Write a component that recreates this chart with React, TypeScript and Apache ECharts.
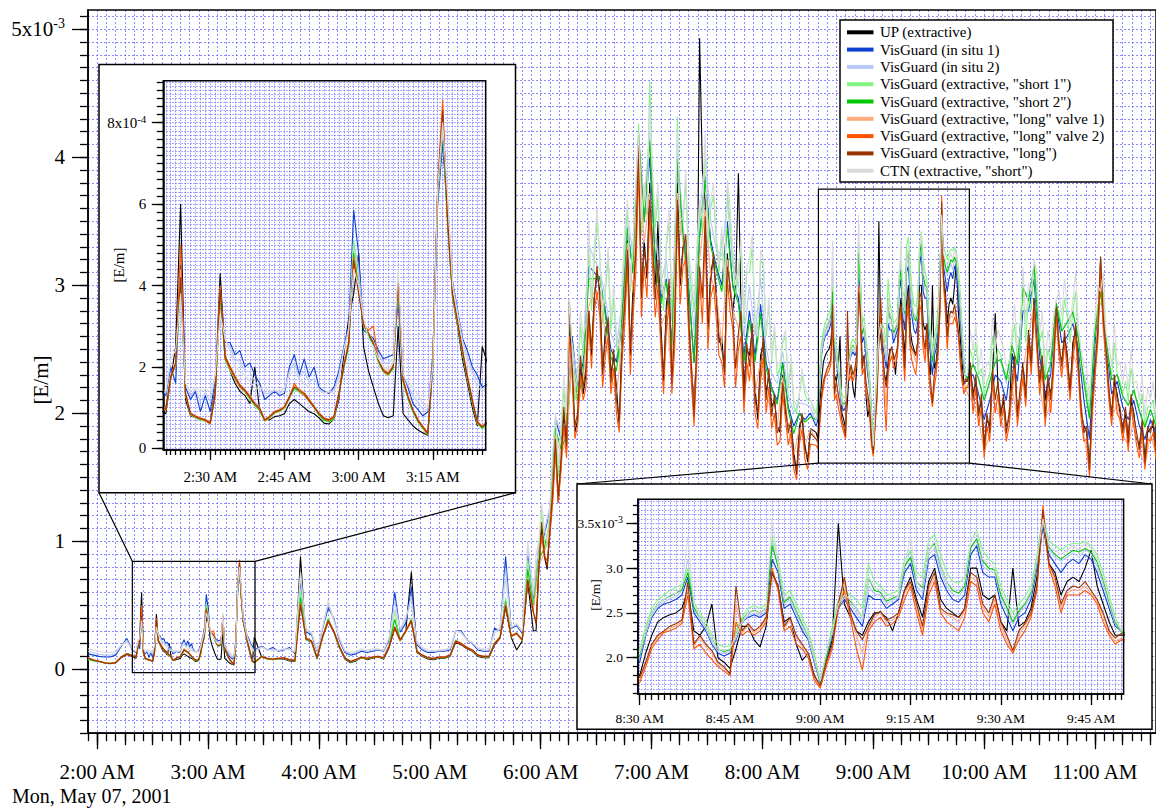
import React, { useEffect, useRef } from 'react';
import * as echarts from 'echarts';

// ---------- time grids (minutes after midnight) ----------
const SEGMENTS_LO: [number, number, number][] = [
  [115, 139, 3], [141, 205, 1], [209, 506, 3], [509, 591, 1], [594, 693, 3],
];
const SEGMENTS_HI: [number, number, number][] = [
  [115, 139, 3], [141, 205, 1], [209, 356, 3], [357.5, 506, 1.5], [509, 591, 1], [592.5, 693, 1.5],
];
function buildTimes(segs: [number, number, number][]) {
  const t: number[] = [];
  for (const [a, b, s] of segs) {
    const n = Math.round((b - a) / s);
    for (let i = 0; i <= n; i++) t.push(+(a + i * s).toFixed(2));
  }
  return t;
}
const TIMES_LO = buildTimes(SEGMENTS_LO);
const TIMES_HI = buildTimes(SEGMENTS_HI);

// ---------- series values, in 1e-6 E/m (on TIMES_LO) ----------
const UP = [
  85,70,60,48,42,50,90,115,100,
  85,170,250,600,120,80,75,70,68,65,150,430,230,190,160,140,130,110,200,90,
  72,70,78,80,85,110,120,110,100,90,85,75,62,60,72,120,230,320,380,480,
  250,190,150,110,80,75,80,300,85,70,55,45,38,32,200,620,760,560,370,300,
  220,160,100,55,250,
  95,80,75,80,80,65,60,880,230,210,80,250,370,290,170,80,50,65,90,75,
  85,95,80,170,320,220,300,760,130,100,80,75,85,85,100,210,190,160,140,100,
  90,90,190,240,480,250,150,220,680,300,780,880,1080,1750,1600,1700,2350,1950,2150,2800,
  2900,2950,2650,2300,2200,2600,3350,3000,4050,3350,3800,3000,2700,2850,2300,3800,3300,2850,2100,4930,
  3650,3100,2950,2600,3250,2800,3875,2200,2450,2200,2450,2150,2050,1900,2300,1900,1700,1900,1750,1880,
  1850,1800,2050,2250,2400,2450,2480,2500,2550,2750,2300,2250,2350,2600,2000,1950,1880,2100,2350,2350,
  2200,2120,2350,2950,2800,2400,2450,2150,1970,2050,1800,1680,1950,2200,3500,2600,2450,2300,2250,2400,
  2500,2500,2450,2300,2500,2750,2900,2650,2450,2850,3000,2650,2550,2500,2450,2550,3000,3000,2700,2650,
  2700,2400,2300,3000,2350,2400,2550,2900,3500,3050,2950,2700,2850,2900,2850,3000,3200,2800,2600,2400,
  2250,2250,2250,
  2150,2000,1750,1900,2780,2000,1900,2470,2000,2400,2650,2900,2250,2100,2150,2850,2400,2450,2550,2400,
  1900,1600,2400,3200,2500,2000,2150,1880,1800,2000,1750,1650,1880,1720,
];
const IN_SITU_1 = [
  120,110,100,95,95,110,180,240,150,
  130,200,160,450,150,120,140,90,130,90,170,350,260,260,230,240,200,210,180,160,
  120,130,140,130,135,200,230,180,220,175,200,150,140,135,150,190,250,300,585,478,
  290,280,270,240,220,225,230,360,180,150,110,95,80,90,230,600,750,600,410,340,
  270,240,200,180,150,
  180,150,170,140,150,170,120,700,290,270,140,320,480,400,230,130,110,120,140,130,
  140,150,140,230,600,290,360,640,190,150,130,130,140,140,150,300,300,230,200,150,
  140,140,320,300,880,320,340,280,900,550,950,1050,1250,1950,1800,1900,2600,2200,2400,3150,
  3100,3050,2800,2500,2400,2750,3450,3100,4150,3500,4000,3200,2900,3050,2550,3950,3400,3000,2400,3400,
  3850,3350,3150,3000,3500,3000,2900,2450,2800,2450,2850,2400,2200,2100,2400,2050,1900,2000,1950,2000,
  1900,1950,2250,2450,2550,2600,2620,2650,2700,2900,2500,2400,2300,2150,2050,2020,2050,2200,2400,2450,
  2480,2450,2500,3100,2950,2550,2600,2450,2300,2200,1950,1720,2000,2250,2550,2650,2550,2450,2350,2700,
  2650,2650,2550,2600,2650,2950,3050,2750,2650,3100,3150,2900,2750,2650,2620,2700,3150,3250,2950,2900,
  2900,2600,2450,2300,2450,2500,2650,3000,3500,3150,3050,2950,3050,3100,3050,3150,3100,2950,2750,2550,
  2350,2300,2280,
  2300,2150,1950,2100,2300,2250,2100,2450,2250,2800,2800,3050,2450,2150,2300,2850,2550,2600,2700,2500,
  2100,1800,2550,3000,2550,2150,2250,2050,1950,2100,1900,1800,1950,1850,
];
const IN_SITU_2 = [
  140,128,118,110,110,125,185,225,155,
  135,210,200,410,155,130,145,115,138,115,175,340,265,250,215,215,190,188,165,152,
  135,135,142,135,142,190,210,175,190,162,172,145,138,138,142,180,245,295,510,440,
  305,275,260,230,210,210,220,400,180,155,130,112,95,95,215,620,775,610,405,335,
  265,225,190,165,145,
  175,150,158,145,155,160,130,730,305,280,145,325,510,390,240,140,120,130,150,140,
  150,155,145,240,535,305,390,570,205,160,140,138,145,148,160,300,290,230,205,160,
  150,150,300,310,790,325,350,290,950,575,975,1075,1275,1975,1850,1950,2550,2250,2500,3320,
  3200,3120,2900,2620,2510,2880,3560,3220,4170,3650,4200,3370,3020,3200,2720,4070,3470,3140,2640,3530,
  4020,3510,3280,3230,3660,3140,3020,2600,3000,2600,3060,2510,2310,2230,2480,2140,2000,2080,2070,2050,
  1920,2000,2270,2470,2570,2620,2660,2680,2750,3100,2550,2420,2320,2170,2070,2050,2070,2220,2400,2470,
  2500,2470,2520,3300,3000,2600,2650,2500,2350,2220,1970,1730,2020,2270,2570,2670,2600,2500,2400,2800,
  2710,2700,2600,2640,2670,3000,3200,2800,2720,3150,3220,2970,2800,2710,2680,2770,3220,3320,3020,2970,
  2950,2670,2520,2370,2500,2560,2700,3050,3520,3200,3120,3080,3120,3170,3120,3210,3160,3020,2820,2600,
  2380,2300,2285,
  2400,2260,2090,2230,2400,2410,2230,2540,2370,2970,2910,3120,2540,2260,2400,2870,2650,2720,2790,2590,
  2230,1950,2650,2970,2590,2260,2310,2140,2070,2170,2000,1890,2030,1910,
];
const SHORT_1 = [
  75,65,58,52,48,55,98,125,110,
  95,170,205,400,130,82,75,70,66,60,130,370,215,190,170,150,138,120,104,92,
  66,74,86,90,98,122,145,138,130,114,98,80,68,64,72,130,195,250,511,400,
  300,275,250,210,186,178,195,400,160,120,88,64,48,33,210,630,800,540,370,305,
  232,168,112,60,48,
  95,80,75,80,85,70,65,620,230,210,85,250,400,290,170,85,55,70,90,80,
  90,95,85,190,450,220,290,400,135,105,85,80,90,90,105,230,200,165,145,105,
  95,95,210,240,560,250,290,220,850,500,900,1000,1200,1950,1800,1900,2500,2200,2450,3300,
  3200,3250,2950,2650,2550,2950,3600,3300,4266,3700,4600,3450,3100,3300,2800,4318,3500,3200,2800,3600,
  4100,3600,3350,3400,3750,3200,3100,2700,3100,2700,3200,2600,2400,2300,2550,2200,2050,2150,2150,2100,
  2000,2100,2350,2550,2650,2700,2750,2780,2820,3000,2620,2500,2400,2250,2150,2120,2130,2300,2450,2550,
  2580,2550,2600,3350,3100,2700,2750,2600,2450,2300,2050,1750,2050,2350,2650,2750,2700,2650,2550,3050,
  2850,2800,2700,2720,2750,3100,3200,2950,2900,3300,3380,3150,2950,2850,2830,2900,3300,3420,3200,3100,
  3050,2800,2650,2500,2600,2680,2800,3150,3600,3300,3250,3200,3250,3280,3270,3300,3250,3150,2950,2700,
  2450,2300,2280,
  2400,2300,2150,2300,2400,2450,2300,2550,2400,3050,2900,3200,2550,2300,2400,2800,2650,2750,2800,2600,
  2300,2000,2650,2850,2550,2300,2300,2150,2100,2200,2050,1900,2050,1900,
];
const SHORT_2 = [
  80,67,60,50,46,53,96,122,107,
  96,172,207,410,132,84,77,72,68,62,132,380,220,195,172,152,140,123,106,94,
  68,76,88,92,100,125,148,140,132,116,100,82,70,66,74,132,198,254,480,390,
  303,278,254,213,189,181,198,405,164,123,90,66,50,35,213,635,815,550,375,310,
  236,172,115,62,50,
  98,82,77,82,87,72,67,560,235,215,87,255,390,295,175,87,57,72,92,82,
  92,97,87,185,390,225,295,390,137,107,87,82,92,92,107,225,200,167,147,107,
  97,97,205,245,530,255,285,225,780,480,850,950,1150,1880,1720,1820,2450,2100,2320,3050,
  3050,3070,2760,2440,2330,2720,3440,3090,4180,3490,4130,3170,2860,3030,2520,3990,3390,2980,2390,3370,
  3820,3310,3120,2950,3450,2980,2860,2400,2730,2400,2780,2350,2190,2070,2390,2020,1840,2000,1930,1970,
  1950,2020,2300,2500,2600,2650,2690,2720,2760,2950,2560,2450,2350,2200,2100,2070,2090,2250,2420,2500,
  2530,2500,2550,3250,3020,2620,2680,2530,2380,2250,2000,1730,2020,2300,2600,2700,2630,2550,2450,2900,
  2750,2730,2630,2660,2700,3020,3120,2850,2780,3200,3280,3030,2850,2750,2720,2800,3230,3330,3080,3000,
  2980,2700,2560,2400,2520,2600,2730,3080,3550,3230,3150,3100,3150,3200,3180,3220,3180,3070,2870,2630,
  2400,2290,2270,
  2380,2270,2100,2250,2400,2420,2260,2530,2380,2980,2880,3150,2520,2260,2380,2860,2640,2710,2790,2580,
  2250,1960,2640,2950,2560,2260,2300,2130,2060,2180,2020,1890,2030,1900,
];
const LONG_V1 = [
  90,74,64,52,47,54,97,122,107,
  100,178,212,440,138,88,81,76,72,65,138,395,228,204,180,158,146,130,113,100,
  72,80,92,96,104,130,154,146,138,122,104,88,76,72,80,138,204,262,470,385,
  310,285,262,220,196,188,204,420,172,130,96,72,55,40,222,648,840,570,385,320,
  245,180,122,68,56,
  102,87,82,87,92,77,72,510,245,225,92,265,385,305,185,92,62,77,97,87,
  97,102,92,185,335,235,305,385,143,112,92,87,97,97,112,225,205,175,153,112,
  102,102,205,255,510,265,285,235,710,460,810,910,1120,1820,1680,1780,2430,2040,2240,2840,
  2950,2930,2620,2280,2150,2540,3330,2940,4150,3330,3720,2940,2670,2800,2280,3720,3330,2800,2010,3200,
  3590,3070,2940,2540,3200,2800,2670,2150,2410,2150,2410,2150,2010,1880,2280,1880,1670,1880,1750,1880,
  1790,1760,1930,2130,2230,2290,2330,2360,2400,2780,2130,2230,2120,2050,1930,1880,1810,2600,2280,2350,
  2280,2330,2430,2900,2780,2330,2420,2230,2130,2030,1780,1680,1930,2130,2580,2850,2480,2250,2050,2330,
  2450,2500,2400,2420,2480,2720,2830,2560,2300,2760,2900,2520,2480,2450,2400,2520,2900,2860,2560,2460,
  2650,2360,2200,2060,2260,2350,2480,2780,3600,3020,2860,2560,2720,2760,2750,2800,2720,2630,2470,2280,
  2180,2220,2150,
  2080,1950,1700,1830,2080,1950,1830,2210,1950,2340,2600,2850,2210,1950,2080,2800,2340,2390,2470,2340,
  1830,1540,2340,3180,2470,1950,2080,1830,1750,1950,1700,1600,1830,1680,
];
const LONG_V2 = [
  85,70,60,48,44,50,92,118,102,
  95,172,205,500,130,84,77,72,68,60,130,400,220,195,172,150,140,124,108,96,
  68,76,88,92,100,124,160,140,130,116,100,84,72,68,76,130,205,262,470,390,
  300,290,300,215,190,180,205,420,165,124,92,68,50,35,220,650,856,550,375,310,
  238,172,116,62,52,
  98,82,78,82,88,72,68,520,235,215,88,255,370,295,175,88,58,72,92,82,
  92,98,88,175,320,225,295,370,135,108,88,82,92,92,108,215,195,165,145,108,
  98,98,195,245,490,255,275,225,690,440,780,880,1050,1700,1550,1650,2300,1900,2100,2700,
  2800,2750,2450,2150,2000,2400,3150,2750,3950,3150,3550,2750,2500,2650,2150,3550,3150,2650,1900,3050,
  3400,2900,2750,2400,3050,2650,2500,2000,2250,2000,2250,2000,1880,1750,2150,1750,1560,1760,1640,1760,
  1750,1720,1900,2100,2200,2280,2300,2330,2380,2700,2100,2150,2050,1980,1900,1850,1800,2400,2250,2300,
  2250,2300,2400,3000,2750,2300,2350,2150,2100,2000,1750,1660,1900,2100,2550,2750,2450,2100,1860,2300,
  2400,2450,2350,2380,2450,2650,2800,2500,2250,2700,2850,2500,2400,2350,2300,2450,2850,2800,2500,2400,
  2600,2300,2150,2050,2200,2300,2450,2750,3700,3000,2800,2500,2700,2700,2700,2750,2700,2600,2400,2250,
  2150,2200,2200,
  2000,1900,1650,1780,2000,1900,1780,2150,1900,2280,2550,2800,2150,1900,2000,2750,2280,2330,2400,2280,
  1780,1500,2280,3100,2400,1900,2000,1780,1700,1900,1650,1560,1780,1640,
];
const LONG = [
  88,72,62,50,45,52,95,120,105,
  98,176,210,420,135,86,79,74,70,63,135,390,225,200,176,155,143,127,110,98,
  70,78,90,94,102,127,151,143,135,119,102,86,74,70,78,135,200,258,462,380,
  307,282,258,217,192,184,200,413,168,127,94,70,53,37,217,642,830,560,380,315,
  241,176,119,65,53,
  100,85,80,85,90,75,70,500,240,220,90,260,380,300,180,90,60,75,95,85,
  95,100,90,180,330,230,300,380,140,110,90,85,95,95,110,220,200,170,150,110,
  100,100,200,250,500,260,280,230,700,450,800,900,1100,1800,1650,1750,2400,2000,2200,2800,
  2900,2886,2573,2235,2104,2495,3276,2886,4109,3276,3667,2886,2625,2755,2235,3667,3276,2755,1974,3146,
  3537,3016,2886,2495,3146,2755,2625,2104,2365,2104,2365,2104,1974,1844,2235,1844,1636,1844,1714,1844,
  1800,1780,1950,2150,2250,2300,2350,2380,2420,2850,2150,2250,2150,2080,1950,1900,1820,2800,2300,2380,
  2300,2350,2450,2950,2800,2350,2450,2250,2150,2050,1800,1690,1950,2150,2600,2900,2500,2300,2200,2350,
  2480,2520,2420,2450,2500,2750,2850,2600,2350,2800,2950,2550,2500,2480,2450,2550,2950,2900,2600,2500,
  2700,2400,2250,2080,2300,2380,2500,2800,3650,3050,2900,2600,2750,2800,2780,2850,2750,2650,2500,2300,
  2220,2270,2250,
  2104,1974,1714,1844,2104,1974,1844,2235,1974,2365,2625,2886,2235,1974,2104,2834,2365,2417,2495,2365,
  1844,1556,2365,3224,2495,1974,2104,1844,1766,1974,1714,1610,1844,1688,
];
const CTN = [
  160,150,140,130,130,140,190,210,160,
  140,220,240,380,160,140,150,140,145,140,180,330,270,240,200,190,180,165,150,145,
  150,140,145,140,150,180,190,170,160,150,145,140,135,140,135,170,240,290,440,400,
  320,270,250,220,200,195,210,440,180,160,150,130,110,100,200,640,800,620,400,330,
  260,210,180,150,140,
  170,150,145,150,160,150,140,760,320,290,150,330,540,380,250,150,130,140,160,150,
  160,160,150,250,470,320,420,500,220,170,150,145,150,155,170,300,280,230,210,170,
  160,160,280,320,700,330,360,300,1000,600,1000,1100,1300,2000,1900,2000,2500,2300,2600,3500,
  3300,3198,3016,2755,2625,3016,3667,3354,4200,3797,4400,3537,3146,3354,2886,4200,3537,3276,2886,3667,
  4188,3667,3406,3458,3823,3276,3146,2755,3198,2755,3276,2625,2417,2365,2573,2235,2104,2156,2182,2104,
  1950,2050,2300,2500,2600,2650,2700,2720,2800,3350,2600,2450,2350,2200,2100,2080,2100,2250,2400,2500,
  2520,2500,2550,3550,3050,2650,2700,2550,2400,2250,2000,1740,2050,2300,2600,2700,2650,2550,2450,2900,
  2780,2750,2650,2680,2700,3050,3350,2850,2800,3200,3300,3050,2850,2780,2750,2850,3300,3400,3100,3050,
  3000,2750,2600,2450,2550,2620,2750,3100,3550,3250,3200,3150,3200,3250,3200,3280,3220,3100,2900,2650,
  2420,2300,2290,
  2495,2365,2235,2365,2495,2573,2365,2625,2495,3146,3016,3200,2625,2365,2495,2886,2755,2834,2886,2677,
  2365,2104,2755,2950,2625,2365,2365,2235,2182,2235,2104,1974,2104,1974,
];

// extra readings between the 3-minute samples (t = 357.5, 360.5 ... 504.5 and 592.5 ... 691.5)
const UP_MID_C = [300,1100,780,1350,1300,2000,2700,1850,2400,2300,2450,3100,2300,2700,2450,1900,2850,2450,3250,2900,
  3050,3300,3500,2250,3000,2650,3000,3350,2350,2500,3900,2650,3200,2550,2300,2950,3000,2750,2500,2650,
  1950,2550,2300,2100,1850,2000,1900,1520,1950,1620];
const UP_MID_E = [2350,2250,2100,1950,2300,2200,2100,1950,2400,2150,2100,2350,2550,2400,2250,2350,2500,2600,2150,2650,
  2000,1850,2050,2600,2700,2150,2250,2000,2000,2100,1800,1900,1850,1900];
const SHORT_1_MID_C = [700,1250,950,1650,1500,2200,2850,2100,2700,2650,2800,3500,2700,3200,2900,2400,3350,2950,3700,3400,
  3550,3800,3700,2800,3500,3200,3400,3800,3000,3200,3400,3300,3700,3100,2900,3500,2900,3300,3100,3300,
  2550,3150,2850,2650,2350,2600,2400,2000,2300,2100];
const SHORT_1_MID_E = [2500,2550,2350,2250,2600,2500,2350,2250,2700,2500,2550,2800,2950,2650,2500,2600,2800,2900,2550,2950,
  2350,2200,2350,2850,2950,2400,2550,2250,2250,2350,2100,2150,2050,2100];
const LONG_V2_MID_C = [380,1050,850,1300,1300,1900,2600,1800,2300,2200,2350,2950,2200,2600,2350,1850,2700,2300,3100,2750,
  2900,3150,3000,2150,2850,2500,2850,3200,2250,2400,2700,2500,3000,2450,2200,2800,2200,2600,2400,2550,
  1880,2450,2200,2000,1780,1950,1850,1480,1880,1560];
const LONG_V2_MID_E = [2300,2200,2050,1900,2250,2150,2050,1900,2350,2100,2050,2300,2500,2350,2200,2300,2450,2550,2100,2600,
  1950,1800,2000,2550,2650,2100,2200,1950,1950,2050,1750,1850,1800,1850];
const LONG_MID_C = [350,1150,800,1400,1350,2050,2885,1900,2450,2350,2500,3150,2350,2750,2500,1950,2900,2500,3300,2950,
  3100,3350,3200,2300,3050,2700,3050,3400,2400,2550,2900,2700,3250,2600,2350,3000,2350,2800,2550,2700,
  2000,2600,2350,2150,1900,2050,1950,1550,2000,1650];
const LONG_MID_E = [2400,2300,2150,2000,2350,2250,2150,2000,2450,2200,2150,2400,2600,2450,2300,2400,2550,2650,2200,2700,
  2050,1900,2100,2650,2750,2200,2300,2050,2050,2150,1850,1950,1900,1950];
const CTN_MID_C = [900,1300,1000,1700,1600,2300,2900,2200,2800,2700,2900,3600,2800,3300,3000,2500,3450,3000,3800,3500,
  3600,3900,3800,2900,3600,3300,3500,3900,3100,3300,3500,3350,3800,3150,3000,3600,3000,3350,3150,3400,
  2600,3200,2900,2700,2400,2650,2450,2050,2350,2150];
const CTN_MID_E = [2650,2700,2500,2400,2750,2650,2500,2400,2850,2650,2700,2950,3100,2800,2650,2750,2950,3050,2700,3100,
  2500,2350,2500,3000,3100,2550,2700,2400,2400,2500,2250,2300,2200,2250];

// merge the extra readings in time order (lo layout: A9 B65 C100 D83 E34)
function withMid(lo: number[], midC: number[] | null, midE: number[] | null) {
  if (!midC || !midE) return { times: TIMES_LO, values: lo };
  const v: number[] = lo.slice(0, 124);
  for (let k = 0; k < 50; k++) v.push(midC[k], lo[124 + k]);
  for (let k = 174; k < 257; k++) v.push(lo[k]);
  for (let k = 0; k < 34; k++) v.push(midE[k], lo[257 + k]);
  return { times: TIMES_HI, values: v };
}

const SERIES_META = [
  { name: 'UP (extractive)', color: '#000000', ...withMid(UP, UP_MID_C, UP_MID_E) },
  { name: 'VisGuard (in situ 1)', color: '#0b3fd0', ...withMid(IN_SITU_1, null, null) },
  { name: 'VisGuard (in situ 2)', color: '#b9c8f6', ...withMid(IN_SITU_2, null, null) },
  { name: 'VisGuard (extractive, "short 1")', color: '#84f584', ...withMid(SHORT_1, SHORT_1_MID_C, SHORT_1_MID_E) },
  { name: 'VisGuard (extractive, "short 2")', color: '#00c800', ...withMid(SHORT_2, null, null) },
  { name: 'VisGuard (extractive, "long" valve 1)', color: '#ffab80', ...withMid(LONG_V1, null, null) },
  { name: 'VisGuard (extractive, "long" valve 2)', color: '#ff5500', ...withMid(LONG_V2, LONG_V2_MID_C, LONG_V2_MID_E) },
  { name: 'VisGuard (extractive, "long")', color: '#993300', ...withMid(LONG, LONG_MID_C, LONG_MID_E) },
  { name: 'CTN (extractive, "short")', color: '#dadada', ...withMid(CTN, CTN_MID_C, CTN_MID_E) },
];
const DRAW_ORDER = [0, 1, 2, 3, 4, 5, 6, 7, 8];

// ---------- tick labels ----------
const MAIN_X_LABELS = [120, 180, 240, 300, 360, 420, 480, 540, 600, 660];
const MAIN_Y_LABELS = [0, 1, 2, 3, 4, 5];
const INSET1_X_LABELS = [150, 165, 180, 195];
const INSET1_Y_LABELS = [0, 2, 4, 6, 8];
const INSET2_X_LABELS = [510, 525, 540, 555, 570, 585];
const INSET2_Y_LABELS = [2.0, 2.5, 3.0, 3.5];
const DATE_TEXT = 'Mon, May 07, 2001';
const AXIS_NAME = '[E/m]';

const FONT = "'Liberation Serif','Times New Roman',Times,serif";
const GRID_LINE = { color: '#6f6fff', width: 1, type: [2, 2], opacity: 0.8 };
const GRID_LINE_INSET = { color: '#5f5fff', width: 1, type: [1.5, 1.5], opacity: 0.7 };
const BLACK = { color: '#000', width: 1.3 };

function fmtTime(m: number) {
  const h = Math.floor(m / 60 + 1e-9);
  const mm = Math.round(m - h * 60);
  const h12 = h % 12 === 0 ? 12 : h % 12;
  return `${h12}:${mm < 10 ? '0' + mm : mm} ${h < 12 ? 'AM' : 'PM'}`;
}
function ticks(a: number, b: number, s: number) {
  const out: number[] = [];
  const n = Math.round((b - a) / s);
  for (let i = 0; i <= n; i++) out.push(+(a + i * s).toFixed(4));
  return out;
}

function xAx(grid: number, min: number, max: number, z: number, extra: any) {
  return {
    type: 'value', gridIndex: grid, min, max, z, position: 'bottom',
    axisLine: { show: false, onZero: false },
    axisTick: { show: false },
    axisLabel: { show: false },
    splitLine: { show: false },
    ...extra,
  };
}
function yAx(grid: number, min: number, max: number, z: number, extra: any) {
  return {
    type: 'value', gridIndex: grid, min, max, z, position: 'left',
    axisLine: { show: false, onZero: false },
    axisTick: { show: false },
    axisLabel: { show: false },
    splitLine: { show: false },
    ...extra,
  };
}

export default function App() {
  const ref = useRef<HTMLDivElement>(null);
  useEffect(() => {
    if (!ref.current) return;
    const chart = echarts.init(ref.current, null, { renderer: 'svg' });

    const MX: [number, number] = [115, 693];
    const MY: [number, number] = [-0.5, 5.15];
    const I1X: [number, number] = [140.5, 205.7];
    const I1Y: [number, number] = [-0.04, 9.03];
    const I2X: [number, number] = [509.7, 590.4];
    const I2Y: [number, number] = [1.595, 3.768];

    const lbl = (size: number, margin: number, values: number[], formatter: any, rich?: any) => ({
      show: true, customValues: values, formatter, margin, fontSize: size, fontFamily: FONT, color: '#000',
      rich,
    });
    const frame = { show: true, onZero: false, lineStyle: { color: '#000', width: 1.5 } };

    const xAxis = [
      xAx(0, MX[0], MX[1], 0, {
        axisLine: frame,
        axisTick: { show: true, customValues: ticks(115, 690, 5), length: 8, lineStyle: BLACK },
        splitLine: { show: true, lineStyle: GRID_LINE },
      }),
      xAx(0, MX[0], MX[1], 0, { axisTick: { show: true, customValues: ticks(120, 690, 15), length: 12, lineStyle: BLACK } }),
      xAx(0, MX[0], MX[1], 0, {
        axisTick: { show: true, customValues: MAIN_X_LABELS, length: 16, lineStyle: BLACK },
        axisLabel: lbl(21, 28, MAIN_X_LABELS, (v: number) => fmtTime(v)),
      }),
      xAx(1, I1X[0], I1X[1], 7, {
        axisLine: frame,
        axisTick: { show: true, customValues: ticks(141, 205, 1), length: 5, lineStyle: BLACK },
        splitLine: { show: true, lineStyle: GRID_LINE_INSET },
      }),
      xAx(1, I1X[0], I1X[1], 7, {
        axisTick: { show: true, customValues: INSET1_X_LABELS, length: 10, lineStyle: BLACK },
        axisLabel: lbl(15, 19, INSET1_X_LABELS, (v: number) => fmtTime(v)),
      }),
      xAx(2, I2X[0], I2X[1], 7, {
        axisLine: frame,
        axisTick: { show: true, customValues: ticks(510, 590, 1), length: 6, lineStyle: BLACK },
        splitLine: { show: true, lineStyle: GRID_LINE_INSET },
      }),
      xAx(2, I2X[0], I2X[1], 7, {
        axisTick: { show: true, customValues: INSET2_X_LABELS, length: 11, lineStyle: BLACK },
        axisLabel: lbl(13.5, 17.5, INSET2_X_LABELS, (v: number) => fmtTime(v)),
      }),
    ];

    const supRich = (base: number, sup: number, lift: number) => ({
      m: { fontSize: base, fontFamily: FONT, color: '#000', lineHeight: base + lift },
      s: { fontSize: sup, fontFamily: FONT, color: '#000', lineHeight: sup, padding: [0, 0, lift + base - sup, 0], verticalAlign: 'bottom' },
    });

    const yAxis = [
      yAx(0, MY[0], MY[1], 0, {
        axisLine: frame,
        axisTick: { show: true, customValues: ticks(-0.5, 5.1, 0.1), length: 8, lineStyle: BLACK },
        splitLine: { show: true, lineStyle: GRID_LINE },
      }),
      yAx(0, MY[0], MY[1], 0, {
        axisTick: { show: true, customValues: MAIN_Y_LABELS, length: 16, lineStyle: BLACK },
        axisLabel: lbl(21, 23, MAIN_Y_LABELS,
          (v: number) => (Math.abs(v - 5) < 1e-6 ? '{m|5x10}{s|-3}' : String(Math.round(v))),
          supRich(21, 14, 5)),
      }),
      yAx(1, I1Y[0], I1Y[1], 7, {
        axisLine: frame,
        axisTick: { show: false, customValues: ticks(0, 9, 0.1) },
        splitLine: { show: true, lineStyle: GRID_LINE_INSET },
      }),
      yAx(1, I1Y[0], I1Y[1], 7, { axisTick: { show: true, customValues: ticks(0, 9, 0.2), length: 6.5, lineStyle: BLACK } }),
      yAx(1, I1Y[0], I1Y[1], 7, {
        axisTick: { show: true, customValues: INSET1_Y_LABELS, length: 11.5, lineStyle: BLACK },
        axisLabel: lbl(15, 17, INSET1_Y_LABELS,
          (v: number) => (Math.abs(v - 8) < 1e-6 ? '{m|8x10}{s|-4}' : String(Math.round(v))),
          supRich(15, 11, 4)),
      }),
      yAx(2, I2Y[0], I2Y[1], 7, {
        axisLine: frame,
        axisTick: { show: false, customValues: ticks(1.6, 3.75, 0.05) },
        splitLine: { show: true, lineStyle: GRID_LINE_INSET },
      }),
      yAx(2, I2Y[0], I2Y[1], 7, { axisTick: { show: true, customValues: ticks(1.6, 3.7, 0.1), length: 5, lineStyle: BLACK } }),
      yAx(2, I2Y[0], I2Y[1], 7, {
        axisTick: { show: true, customValues: INSET2_Y_LABELS, length: 11.5, lineStyle: BLACK },
        axisLabel: lbl(13.5, 15, INSET2_Y_LABELS,
          (v: number) => (Math.abs(v - 3.5) < 1e-6 ? '{m|3.5x10}{s|-3}' : v.toFixed(1)),
          supRich(13.5, 10, 4)),
      }),
    ];

    const panels = [
      { x: 0, y: 0, scale: 1000, z: 2 },
      { x: 3, y: 2, scale: 100, z: 8 },
      { x: 5, y: 5, scale: 1000, z: 8 },
    ];
    const series: any[] = [];
    panels.forEach((p) => {
      DRAW_ORDER.forEach((si) => {
        const s = SERIES_META[si];
        series.push({
          type: 'line', name: s.name, xAxisIndex: p.x, yAxisIndex: p.y,
          data: s.times.map((t, i) => [t, s.values[i] / p.scale]),
          showSymbol: false, symbol: 'none', silent: true, clip: true, z: p.z,
          lineStyle: { color: s.color, width: 1.1 }, itemStyle: { color: s.color },
        });
      });
    });

    chart.setOption({
      animation: false,
      backgroundColor: '#fff',
      grid: [
        { left: 88, top: 10, width: 1072, height: 723.2, show: true, borderColor: '#000', borderWidth: 1.5, backgroundColor: 'transparent', z: 2 },
        { left: 163.3, top: 80.7, width: 322.4, height: 369.3, show: true, borderColor: '#000', borderWidth: 1.5, backgroundColor: 'transparent', z: 9 },
        { left: 637.9, top: 499.3, width: 485.7, height: 194.7, show: true, borderColor: '#000', borderWidth: 1.5, backgroundColor: 'transparent', z: 9 },
      ],
      xAxis, yAxis, series,
    });

    const px = (t: number, v: number) => chart.convertToPixel({ gridIndex: 0 } as any, [t, v]) as number[];
    const r1a = px(139, 0.843), r1b = px(205.4, -0.027);
    const r2a = px(510.3, 3.75), r2b = px(592, 1.61);
    const B1 = { x: 99, y: 64.5, w: 416.5, h: 428.2 };
    const B2 = { x: 577, y: 484, w: 575, h: 245.3 };
    const line = (x1: number, y1: number, x2: number, y2: number) => ({
      type: 'line', z: 3, silent: true, shape: { x1, y1, x2, y2 }, style: { stroke: '#000', lineWidth: 1.2 },
    });
    const text = (x: number, y: number, str: string, size: number, z: number, rot = 0, align = 'center') => ({
      type: 'text', x, y, rotation: rot, z, silent: true,
      style: { text: str, fontSize: size, fontFamily: FONT, fill: '#000', align, textAlign: align, verticalAlign: 'middle', textVerticalAlign: 'middle' },
    });

    const graphic: any[] = [
      { type: 'rect', z: 3, silent: true, shape: { x: r1a[0], y: r1a[1], width: r1b[0] - r1a[0], height: r1b[1] - r1a[1] }, style: { fill: 'none', stroke: '#000', lineWidth: 1.2 } },
      { type: 'rect', z: 3, silent: true, shape: { x: r2a[0], y: r2a[1], width: r2b[0] - r2a[0], height: r2b[1] - r2a[1] }, style: { fill: 'none', stroke: '#000', lineWidth: 1.2 } },
      line(r1a[0], r1a[1], B1.x, B1.y + B1.h),
      line(r1b[0], r1a[1], B1.x + B1.w, B1.y + B1.h),
      line(r2a[0], r2b[1], B2.x, B2.y),
      line(r2b[0], r2b[1], B2.x + B2.w, B2.y),
      { type: 'rect', z: 5, silent: true, shape: { x: B1.x, y: B1.y, width: B1.w, height: B1.h }, style: { fill: '#fff', stroke: '#000', lineWidth: 1.5 } },
      { type: 'rect', z: 5, silent: true, shape: { x: B2.x, y: B2.y, width: B2.w, height: B2.h }, style: { fill: '#fff', stroke: '#000', lineWidth: 1.5 } },
      text(41, 380, AXIS_NAME, 21, 4, Math.PI / 2),
      text(119, 265, AXIS_NAME, 15, 9, Math.PI / 2),
      text(595, 595, AXIS_NAME, 13.5, 9, Math.PI / 2),
      text(12, 796, DATE_TEXT, 20, 4, 0, 'left'),
      { type: 'rect', z: 20, silent: true, shape: { x: 840, y: 20, width: 273, height: 162 }, style: { fill: '#fff', stroke: '#000', lineWidth: 1.5 } },
    ];
    SERIES_META.forEach((s, i) => {
      const cy = 32.3 + 17.3 * i;
      graphic.push({ type: 'rect', z: 21, silent: true, shape: { x: 847, y: cy - 2, width: 26.5, height: 4 }, style: { fill: s.color } });
      graphic.push(text(880, cy, s.name, 15, 21, 0, 'left'));
    });
    chart.setOption({ graphic });

    return () => chart.dispose();
  }, []);

  return <div ref={ref} style={{ position: 'absolute', left: 0, top: 0, width: 1156, height: 809, background: '#fff' }} />;
}
